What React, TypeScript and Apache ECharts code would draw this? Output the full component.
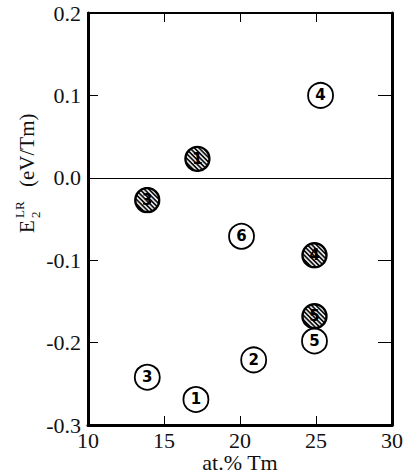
import React, { useEffect, useRef } from "react";
import * as echarts from "echarts";

const xTicks = [10, 15, 20, 25, 30];
const yTicks = [-0.3, -0.2, -0.1, 0.0, 0.1, 0.2];

const openX = [17.1, 20.9, 13.9, 25.3, 24.9, 20.1];
const openY = [-0.269, -0.221, -0.242, 0.1, -0.198, -0.071];
const openLabels = ["1", "2", "3", "4", "5", "6"];

const hatchX = [17.2, 13.9, 24.9, 24.9];
const hatchY = [0.023, -0.027, -0.094, -0.168];
const hatchLabels = ["1", "3", "4", "5"];

const SERIF = "Liberation Serif";
const SANS = "DejaVu Sans";

const hatchSvg =
  "<svg xmlns='http://www.w3.org/2000/svg' width='27' height='27' viewBox='0 0 27 27'>" +
  "<defs><pattern id='h' width='3.2' height='3.2' patternUnits='userSpaceOnUse' patternTransform='rotate(45)'>" +
  "<rect width='3.2' height='3.2' fill='#f2f2f2'/><rect width='3.2' height='1.7' fill='#111'/></pattern></defs>" +
  "<circle cx='13.5' cy='13.5' r='12' fill='url(#h)' stroke='#000' stroke-width='2.4'/></svg>";
const hatchSymbol = "image://data:image/svg+xml;charset=utf-8," + encodeURIComponent(hatchSvg);

export default function App() {
  const ref = useRef<HTMLDivElement>(null);
  useEffect(() => {
    if (!ref.current) return;
    const chart = echarts.init(ref.current, null, { renderer: "svg" });
    const openData = openX.map((x, i) => [x, openY[i]]);
    const hatchData = hatchX.map((x, i) => [x, hatchY[i]]);
    const xMin = xTicks[0];
    const xMax = xTicks[xTicks.length - 1];
    const yMin = yTicks[0];
    const yMax = yTicks[yTicks.length - 1];
    const serifText = { color: "#111", fontFamily: SERIF, fontSize: 22 };
    chart.setOption({
      animation: false,
      backgroundColor: "#fff",
      textStyle: { fontFamily: SERIF },
      grid: { left: 88, right: 11, top: 13, bottom: 47, containLabel: false, outerBoundsMode: "none" },
      xAxis: [
        {
          type: "value",
          position: "bottom",
          min: xMin,
          max: xMax,
          interval: 5,
          axisLine: { show: true, onZero: false, lineStyle: { color: "#000", width: 3 } },
          axisTick: { show: true, inside: true, length: 9, lineStyle: { color: "#000", width: 1 } },
          axisLabel: { ...serifText, margin: 4 },
          splitLine: { show: false },
          name: "at.% Tm",
          nameLocation: "middle",
          nameGap: 26,
          nameMoveOverlap: false,
          nameTextStyle: { ...serifText },
        },
        {
          type: "value",
          position: "top",
          min: xMin,
          max: xMax,
          interval: 5,
          axisLine: { show: true, onZero: false, lineStyle: { color: "#000", width: 2 } },
          axisTick: { show: true, inside: true, length: 9, lineStyle: { color: "#000", width: 1 } },
          axisLabel: { show: false },
          splitLine: { show: false },
        },
      ],
      yAxis: [
        {
          type: "value",
          position: "left",
          min: yMin,
          max: yMax,
          interval: 0.1,
          axisLine: { show: true, onZero: false, lineStyle: { color: "#000", width: 3 } },
          axisTick: { show: true, inside: true, length: 10, lineStyle: { color: "#000", width: 1 } },
          axisLabel: {
            ...serifText,
            margin: 7,
            formatter: (v: number) => (Math.abs(v) < 1e-9 ? "0.0" : v.toFixed(1)),
          },
          splitLine: { show: false },
        },
        {
          type: "value",
          position: "right",
          min: yMin,
          max: yMax,
          interval: 0.1,
          axisLine: { show: true, onZero: false, lineStyle: { color: "#000", width: 3 } },
          axisTick: { show: true, inside: true, length: 14, lineStyle: { color: "#000", width: 1 } },
          axisLabel: { show: false },
          splitLine: { show: false },
        },
      ],
      graphic: [
        {
          type: "group",
          x: 27,
          y: 233,
          rotation: Math.PI / 2,
          children: [
            {
              type: "text",
              x: 0,
              y: 0,
              style: { text: "E", font: `21px ${SERIF}`, fill: "#111", verticalAlign: "middle", align: "left" },
            },
            {
              type: "text",
              x: 15,
              y: -8,
              style: { text: "LR", font: `13px ${SERIF}`, fill: "#111", verticalAlign: "middle", align: "left" },
            },
            {
              type: "text",
              x: 15,
              y: 8,
              style: { text: "2", font: `13px ${SERIF}`, fill: "#111", verticalAlign: "middle", align: "left" },
            },
            {
              type: "text",
              x: 46,
              y: 0,
              style: { text: "(eV/Tm)", font: `21px ${SERIF}`, fill: "#111", verticalAlign: "middle", align: "left" },
            },
          ],
        },
      ],
      series: [
        {
          type: "scatter",
          xAxisIndex: 0,
          yAxisIndex: 0,
          data: openData,
          symbol: "circle",
          symbolSize: 25,
          itemStyle: { color: "#fff", borderColor: "#000", borderWidth: 1.8, opacity: 1 },
          label: {
            show: true,
            position: "inside",
            formatter: (p: any) => openLabels[p.dataIndex],
            color: "#000",
            fontFamily: SANS,
            fontWeight: "bold",
            fontSize: 15,
          },
          markLine: {
            silent: true,
            symbol: ["none", "none"],
            label: { show: false },
            lineStyle: { color: "#000", width: 1.2, type: "solid" },
            data: [{ yAxis: 0 }],
          },
          z: 3,
        },
        {
          type: "scatter",
          xAxisIndex: 0,
          yAxisIndex: 0,
          data: hatchData,
          symbol: hatchSymbol,
          symbolSize: 27,
          itemStyle: { opacity: 1 },
          label: {
            show: true,
            position: "inside",
            formatter: (p: any) => hatchLabels[p.dataIndex],
            color: "#000",
            fontFamily: SANS,
            fontWeight: "bold",
            fontSize: 15,
          },
          z: 4,
        },
      ],
    });
    return () => chart.dispose();
  }, []);
  return <div ref={ref} style={{ width: 403, height: 472, position: "absolute", left: 0, top: 0 }} />;
}
